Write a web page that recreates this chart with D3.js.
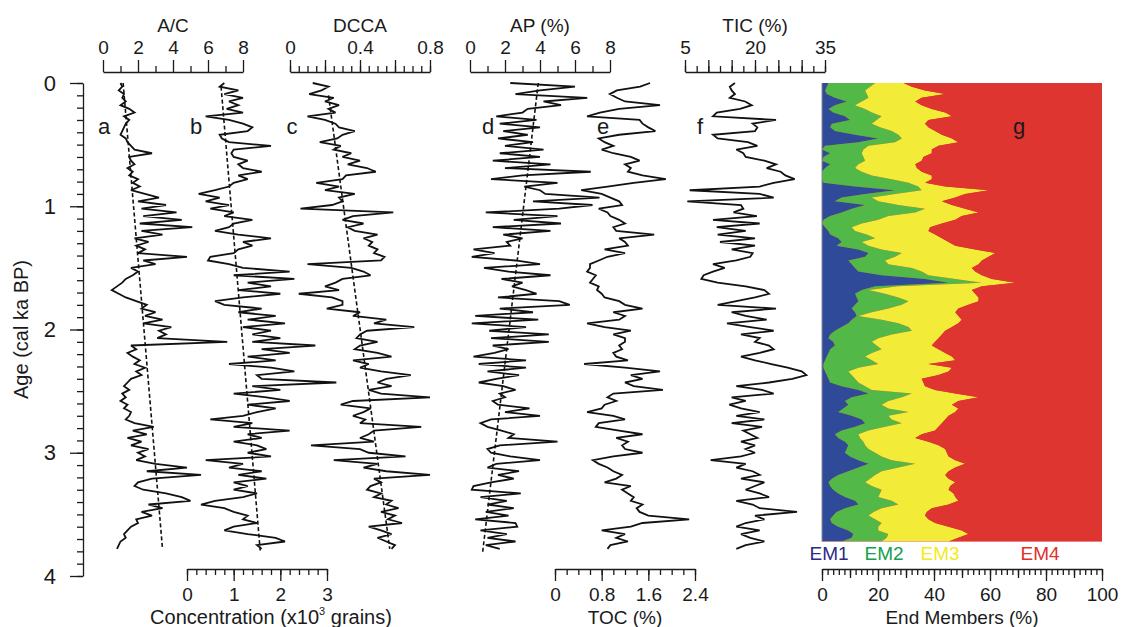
<!DOCTYPE html>
<html>
<head>
<meta charset="utf-8">
<script src="https://cdn.jsdelivr.net/npm/d3@7"></script>
<style>
  body { margin: 0; background: #fff; }
  svg { display: block; }
</style>
</head>
<body>
<svg id="chart" width="1126" height="627"></svg>
<script>
// ---- sample ages (cal ka BP), one sample every 0.03 ka ----
const ages = d3.range(127).map(i => +(i * 0.03).toFixed(2));

// a: A/C ratio
const acRatio = [1.0,1.1,0.9,1.2,1.1,1.3,1.0,1.5,1.8,1.2,
 1.5,1.3,1.2,1.1,1.0,1.3,1.4,1.6,1.8,2.8,
 1.5,1.6,1.8,1.4,1.7,1.5,2.0,1.7,2.1,1.6,
 2.4,3.2,2.0,3.6,2.2,4.2,2.3,4.5,2.1,5.1,
 2.2,3.4,1.8,2.6,1.9,2.4,2.0,4.8,2.3,3.0,
 1.6,2.0,1.7,1.3,1.1,0.8,0.5,0.9,1.3,1.9,
 2.5,2.2,3.0,2.4,3.4,2.3,3.9,3.2,3.6,3.1,
 7.1,1.6,1.9,1.4,1.7,2.1,1.8,2.4,1.9,2.2,
 1.6,1.4,1.2,1.5,1.1,1.3,1.0,1.4,1.2,1.6,
 1.5,1.3,1.8,2.9,1.7,2.5,1.4,2.2,1.6,2.6,
 2.0,2.4,1.9,3.0,4.8,2.5,5.6,2.8,2.0,1.8,
 2.3,3.6,4.5,5.0,2.6,3.4,2.2,2.8,1.9,2.0,
 1.6,1.4,1.2,1.3,1.0,0.9,0.8];

// b: pollen concentration (x10^3 grains)
const concentration = [0.8,0.7,1.1,0.8,1.2,0.9,1.1,0.85,1.2,0.4,
 0.9,1.2,1.4,1.3,0.7,0.75,0.9,1.8,1.0,0.95,
 1.0,1.3,1.1,1.2,1.6,1.1,1.3,1.0,0.9,0.6,
 0.25,0.7,0.4,0.9,0.5,1.0,0.8,1.4,1.0,0.9,
 0.6,1.1,1.8,1.2,1.4,1.1,1.0,0.5,0.45,0.9,
 1.2,2.2,1.0,2.3,1.3,1.8,1.1,2.0,1.2,0.6,
 0.8,1.6,1.1,1.9,1.3,2.1,1.2,1.8,1.4,2.0,
 1.4,2.75,1.6,2.2,1.3,1.9,0.9,1.8,2.3,1.5,
 1.6,3.2,1.4,2.0,1.0,1.7,2.2,1.3,1.9,1.5,
 1.2,0.5,1.4,1.0,2.2,1.3,1.6,1.0,1.5,1.7,
 1.3,1.8,0.4,1.2,0.9,1.6,1.1,1.7,1.0,1.3,
 1.0,1.5,1.2,0.6,0.3,0.8,1.0,1.3,1.2,1.5,
 1.0,0.8,1.3,1.9,2.1,1.5,1.6];

// c: DCCA axis 1 scores
const dcca = [0.13,0.22,0.18,0.11,0.25,0.2,0.28,0.22,0.26,0.1,
 0.2,0.26,0.28,0.37,0.3,0.27,0.17,0.29,0.25,0.35,
 0.3,0.4,0.33,0.44,0.49,0.32,0.3,0.15,0.28,0.2,
 0.37,0.28,0.3,0.24,0.06,0.59,0.36,0.3,0.42,0.33,
 0.37,0.5,0.42,0.47,0.45,0.5,0.48,0.54,0.52,0.1,
 0.35,0.42,0.46,0.3,0.26,0.2,0.28,0.05,0.24,0.3,
 0.3,0.21,0.4,0.36,0.55,0.48,0.71,0.44,0.4,0.38,
 0.5,0.4,0.37,0.5,0.58,0.36,0.45,0.4,0.52,0.69,
 0.55,0.5,0.58,0.45,0.52,0.8,0.36,0.29,0.46,0.42,
 0.36,0.43,0.4,0.75,0.48,0.45,0.4,0.48,0.12,0.4,
 0.45,0.66,0.25,0.5,0.42,0.55,0.8,0.48,0.52,0.46,
 0.44,0.52,0.48,0.58,0.55,0.62,0.52,0.6,0.56,0.64,
 0.45,0.52,0.58,0.5,0.55,0.6,0.58];

// d: arboreal pollen (%)
const apPct = [2.3,6.0,4.0,2.6,6.7,4.2,5.2,3.3,3.0,1.5,
 3.8,1.7,4.0,1.9,3.3,1.6,3.6,2.0,4.2,1.7,
 4.0,1.3,4.6,2.0,6.9,3.0,1.2,5.0,3.1,4.0,
 4.3,7.4,3.6,7.0,5.1,0.9,5.0,2.5,5.2,1.3,
 4.6,1.9,3.0,2.1,2.3,0.2,1.4,0.1,2.6,4.0,
 0.8,2.2,4.6,1.8,3.0,2.4,3.2,3.8,1.6,5.1,
 5.7,1.7,3.6,0.3,3.9,0.1,3.2,1.1,4.5,1.2,
 4.5,1.3,2.2,1.4,0.2,3.2,0.5,3.2,1.0,2.8,
 1.5,0.5,1.9,2.6,1.7,2.0,1.3,1.6,3.4,2.0,
 4.0,1.2,0.6,1.0,1.8,2.5,2.2,5.0,1.7,1.0,
 1.2,2.3,4.0,1.5,1.0,2.8,1.6,2.5,1.2,0.2,
 0.1,2.9,0.6,2.1,1.0,2.5,0.9,2.2,0.3,2.6,
 2.7,0.6,2.1,1.0,2.6,0.9,1.7];

// e: total organic carbon (%)
const tocPct = [1.63,1.46,1.06,0.94,1.06,1.2,1.8,1.1,0.77,0.55,
 1.45,1.5,1.6,1.72,1.1,0.75,0.85,1.0,0.8,1.0,
 1.3,1.45,1.2,1.3,1.25,1.5,1.9,1.35,0.9,0.45,
 0.8,0.95,1.1,1.15,0.75,0.9,0.95,1.1,1.2,1.0,
 1.05,1.7,1.1,1.2,1.25,0.85,1.2,0.9,0.75,0.6,
 0.6,0.55,0.7,0.65,0.6,0.75,0.72,0.8,0.85,1.1,
 1.2,1.5,1.0,1.2,1.1,0.55,0.85,1.3,1.0,1.2,
 1.2,1.1,1.15,1.0,1.05,1.25,0.5,1.2,1.8,1.3,
 1.5,1.2,1.35,1.85,1.0,0.9,1.05,0.85,0.8,0.55,
 1.0,1.2,0.75,0.7,1.1,1.5,1.05,1.25,1.15,1.2,
 1.5,1.0,0.65,0.75,0.9,1.0,1.15,1.05,0.85,1.3,
 1.15,1.25,1.35,1.3,1.5,1.4,1.45,1.6,2.3,1.5,
 1.3,0.8,1.2,1.05,1.25,0.95,0.9];

// f: total inorganic carbon (%)
const ticPct = [15.7,14.6,15,15.7,14.6,17.9,19.3,16.8,11.8,11,
 24.5,19.5,20.5,20,11,12,18.5,20.5,16,17.5,
 18,22,24.5,22.5,25.5,26.5,28.5,24,21,6,
 21,24,5.5,17,17.5,15.4,20.4,11,21,11.8,
 18,12,20,12.5,20,15,19.5,19,16,11,
 13.5,11,9,8.5,12,18,22,23,20,16,
 12,24.5,15,18,22.5,14,19,24,17,21,
 20,23,24,21,17,20,23.5,27,30,31,
 28,23,16,21.5,24,15,18,14.5,17,21,
 16,22,15,21.5,17.5,19,20.5,17,20,18,
 20,17,10.5,18,16,19.5,21,17,22,20,
 18,21,23,16,19.5,21,29,20,22,18,
 16,21,17,19,22,18,16];

// linear trends (dashed), given at their two end ages
const acTrend = [[0, 1.15], [3.78, 3.4]];
const concTrend = [[0.03, 0.73], [3.8, 1.57]];
const dccaTrend = [[0.1, 0.22], [3.78, 0.57]];
const apTrend = [[0, 3.9], [3.81, 0.72]];

// g: grain-size end members (%), samples every 0.03 ka from 0 to 3.72
const emAges = d3.range(125).map(i => +(i * 0.03).toFixed(2));
const em1 = [2.3,1.7,1.1,1.7,4.6,8.8,4.6,2.3,4,8.2,
 10,3.5,2.9,4.6,11.8,20.1,13,1.1,0,2.9,
 0.5,0,2.9,1.1,0,0,0,0.5,11.8,26.1,
 15.4,7,4.6,15.4,10.6,7,2.9,0.5,0,1.1,
 2.3,2.9,5.8,7,5.2,13,16.6,15.4,9.4,10.6,
 11.8,13,21.3,36.8,45.2,19,14.2,11.8,12.4,13,
 11.8,10.6,11.8,12.4,10.6,9.4,7,4.6,2.9,2.3,
 4,4.6,2.9,2.3,1.7,1.1,0.5,0.5,1.1,1.7,
 2.3,2.9,7,13,16.6,10.6,8.2,9.4,7.6,5.8,
 10.6,14.2,15.4,11.8,7,4.6,5.8,8.2,9.4,8.8,
 8.2,10,13,16.6,13,9.4,5.8,3.5,2.3,2.9,
 4,5.8,8.2,11.8,13,8.2,5.2,4,2.9,3.5,
 5.8,9.4,11.2,10.6,7];
const em2 = [16.7,15.5,14.3,14.3,12,5.4,7.2,13.1,13.8,13.1,
 9.5,14.3,17.8,20.3,15.5,8.4,13.1,15.5,14.8,11.3,
 14.3,15.4,10.1,10.7,14.2,17.8,24.9,30.4,22.6,9.5,
 10.7,10.8,15.5,11.9,26.2,26.3,20.8,19.6,14.2,9.5,
 9.5,13.1,13.2,7.2,11.4,8.3,11.9,10.7,13.1,13.1,
 20.3,22.6,16.7,10.8,11.9,8.3,2.4,10.7,14.9,17.9,
 16.7,13.1,6,0.6,10.7,17.9,23.9,27.5,22,17.8,
 13.8,14.9,18.4,15.5,13.7,16.7,19.6,12.5,8.3,8.9,
 9.5,10.1,8.4,4.8,15.5,17.9,15.5,11.9,16.1,25.1,
 13.1,10.7,13.1,10.7,9.6,8.4,7.8,6.6,6,7.8,
 10.8,11.3,11.9,16.7,14.3,11.9,13.2,13.7,13.1,14.9,
 17.3,14.9,11.9,13.1,14.3,13.1,13.2,12.6,16.1,17.8,
 14.3,10.7,12.5,12.5,14.3];
const em3 = [10.1,14.9,21.4,28,19,19.1,23.8,23.8,26.2,25.1,
 18.5,19,17.3,15.5,15.5,17.9,22.6,25,24.4,25,
 21.4,20.2,20.3,22.1,21.4,21.4,14.3,5.9,9.6,23.9,
 25,29.8,22.7,19.1,14.3,22.6,26.2,27.5,28.6,28,
 26.2,24.4,23.8,31,31,33.4,33.4,33.4,34.6,32.2,
 21.4,19.1,19.1,13.1,11.9,29.8,36.9,32.2,28.6,25,
 23.8,25,29.8,35.7,28.6,21.4,15.5,11.9,17.9,21.5,
 22.6,19.7,20.3,26.2,31,29.8,17.9,33.4,35.8,31,
 23.8,23.2,21.4,22.6,15.5,27.4,25,25.1,25,16.7,
 21.5,19.1,14.3,19.1,23.8,22.6,19.7,23.2,26.2,27.4,
 25.6,23.9,22.7,17.8,20.3,23.9,25,28,32.2,28,
 23.9,26.3,27.5,23.8,17.9,17.9,19,20.2,19,19.1,
 25.1,29.8,28.6,25.6,23.9];
const em4 = [70.9,67.9,63.2,56,64.4,66.7,64.4,60.8,56,53.6,
 62,63.2,62,59.6,57.2,53.6,51.3,58.4,60.8,60.8,
 63.8,64.4,66.7,66.1,64.4,60.8,60.8,63.2,56,40.5,
 48.9,52.4,57.2,53.6,48.9,44.1,50.1,52.4,57.2,61.4,
 62,59.6,57.2,54.8,52.4,45.3,38.1,40.5,42.9,44.1,
 46.5,45.3,42.9,39.3,31,42.9,46.5,45.3,44.1,44.1,
 47.7,51.3,52.4,51.3,50.1,51.3,53.6,56,57.2,58.4,
 59.6,60.8,58.4,56,53.6,52.4,62,53.6,54.8,58.4,
 64.4,63.8,63.2,59.6,52.4,44.1,51.3,53.6,51.3,52.4,
 54.8,56,57.2,58.4,59.6,64.4,66.7,62,58.4,56,
 55.4,54.8,52.4,48.9,52.4,54.8,56,54.8,52.4,54.2,
 54.8,53,52.4,51.3,54.8,60.8,62.6,63.2,62,59.6,
 54.8,50.1,47.7,51.3,54.8];
const emKeys = ["EM1", "EM2", "EM3", "EM4"];
const emColors = ["#2f4a99", "#52b848", "#f2ec38", "#df3530"];
const emLabelColors = ["#2b2b85", "#14a04c", "#f4ea1a", "#e0302a"];

// ---- layout ----
const FONT = "'Liberation Sans', Arial, Helvetica, sans-serif";
const INK = "#1a1a1a";
const svg = d3.select("#chart");

const y = d3.scaleLinear().domain([0, 4]).range([83, 576]);

const xAC = d3.scaleLinear().domain([0, 8]).range([103, 243]);
const xConc = d3.scaleLinear().domain([0, 3]).range([187, 327]);
const xDCCA = d3.scaleLinear().domain([0, 0.8]).range([290, 430]);
const xAP = d3.scaleLinear().domain([0, 8]).range([470, 610]);
const xTOC = d3.scaleLinear().domain([0, 2.4]).range([555, 695]);
const xTIC = d3.scaleLinear().domain([5, 35]).range([685, 825]);
const xEM = d3.scaleLinear().domain([0, 100]).range([822, 1102]);

function styleAxis(g, size) {
  g.attr("font-family", FONT).attr("font-size", size);
  g.selectAll("line, path").attr("stroke", INK).attr("stroke-width", 1.3);
  g.selectAll("text").attr("fill", INK);
}

function range(a, b, s) {
  const out = [];
  for (let v = a; v <= b + s / 1000; v += s) out.push(+v.toFixed(4));
  return out;
}

// horizontal axis with long labelled ticks and short minor ticks
function hAxis(scale, yPos, side, majors, minors, fmt, title, titleY) {
  const make = side === "top" ? d3.axisTop : d3.axisBottom;
  const g = svg.append("g").attr("transform", `translate(0,${yPos})`);
  g.append("g")
    .call(make(scale).tickValues(minors).tickSize(6).tickFormat(""))
    .call(s => s.select(".domain").remove())
    .call(s => styleAxis(s, 19));
  g.append("g")
    .call(make(scale).tickValues(majors).tickSize(12).tickSizeOuter(0)
      .tickPadding(side === "top" ? 6 : 7).tickFormat(fmt))
    .call(s => styleAxis(s, 19));
  svg.append("text")
    .attr("x", d3.mean(scale.range()))
    .attr("y", titleY)
    .attr("text-anchor", "middle")
    .attr("font-family", FONT).attr("font-size", 19).attr("fill", INK)
    .text(title);
  return g;
}

// top scales
hAxis(xAC, 72, "top", [0, 2, 4, 6, 8], [1, 3, 5, 7], d3.format("d"), "A/C", 32);
hAxis(xDCCA, 72, "top", [0, 0.2, 0.4, 0.6, 0.8], range(0, 0.8, 0.05),
  d => (d === 0 ? "0" : [0.4, 0.8].includes(d) ? d3.format(".1f")(d) : ""), "DCCA", 32);
hAxis(xAP, 72, "top", [0, 2, 4, 6, 8], [1, 3, 5, 7], d3.format("d"), "AP (%)", 32);
hAxis(xTIC, 72, "top", [5, 10, 15, 20, 25, 30, 35], range(5, 35, 2.5),
  d => ([5, 20, 35].includes(d) ? d : ""), "TIC (%)", 32);

// bottom scales
hAxis(xConc, 569, "bottom", [0, 1, 2, 3], range(0, 3, 0.2), d3.format("d"), "", 0);
const concTitle = svg.append("text")
  .attr("x", 271).attr("y", 624).attr("text-anchor", "middle")
  .attr("font-family", FONT).attr("font-size", 20).attr("fill", INK);
concTitle.append("tspan").text("Concentration (x10");
concTitle.append("tspan").attr("font-size", 11).attr("dy", -9).text("3");
concTitle.append("tspan").attr("dy", 9).text(" grains)");

hAxis(xTOC, 569, "bottom", [0, 0.8, 1.6, 2.4], range(0, 2.4, 0.2),
  d => (d === 0 ? "0" : d3.format(".1f")(d)), "TOC (%)", 624);
hAxis(xEM, 569, "bottom", [0, 20, 40, 60, 80, 100], range(0, 100, 2),
  d3.format("d"), "End Members (%)", 624);
// mid ticks at odd tens on the end-member scale
svg.append("g").attr("transform", "translate(0,569)")
  .call(d3.axisBottom(xEM).tickValues([10, 30, 50, 70, 90]).tickSize(9).tickFormat(""))
  .call(s => s.select(".domain").remove())
  .call(s => styleAxis(s, 18));

// age axis
const gy = svg.append("g").attr("transform", "translate(83,0)");
gy.append("g")
  .call(d3.axisLeft(y).tickValues(range(0, 4, 0.1)).tickSize(6).tickFormat(""))
  .call(s => s.select(".domain").remove())
  .call(s => styleAxis(s, 21));
gy.append("g")
  .call(d3.axisLeft(y).tickValues([0, 1, 2, 3, 4]).tickSize(13).tickSizeOuter(0)
    .tickPadding(14).tickFormat(d3.format("d")))
  .call(s => styleAxis(s, 22));
svg.append("text")
  .attr("transform", `translate(28,${y(2)}) rotate(-90)`)
  .attr("text-anchor", "middle")
  .attr("font-family", FONT).attr("font-size", 20).attr("fill", INK)
  .text("Age (cal ka BP)");

// ---- end-member stack ----
const emRows = emAges.map((a, i) => ({ age: a, EM1: em1[i], EM2: em2[i], EM3: em3[i], EM4: em4[i] }));
const stacked = d3.stack().keys(emKeys)(emRows);
const emBottom = y(emAges[emAges.length - 1]);
const emPanel = svg.append("g");
emPanel.append("rect")
  .attr("x", xEM(0)).attr("y", y(0))
  .attr("width", xEM(100) - xEM(0)).attr("height", emBottom - y(0))
  .attr("fill", emColors[3]);
emPanel.append("clipPath").attr("id", "emclip").append("rect")
  .attr("x", xEM(0)).attr("y", y(0))
  .attr("width", xEM(100) - xEM(0)).attr("height", emBottom - y(0));
const emArea = d3.area()
  .y(d => y(d.data.age))
  .x0(d => xEM(d[0]))
  .x1(d => xEM(d[1]));
emPanel.selectAll("path.em").data(stacked).join("path")
  .attr("class", "em")
  .attr("clip-path", "url(#emclip)")
  .attr("fill", (d, i) => emColors[i])
  .attr("d", emArea);
// thin frame line on the zero edge of the panel
emPanel.append("line")
  .attr("x1", xEM(0)).attr("x2", xEM(0)).attr("y1", y(0)).attr("y2", emBottom)
  .attr("stroke", "#8a8a9a").attr("stroke-width", 1);

[[829, "EM1"], [884, "EM2"], [940, "EM3"], [1040, "EM4"]].forEach(([x, t], i) => {
  svg.append("text").attr("x", x).attr("y", 560).attr("text-anchor", "middle")
    .attr("font-family", FONT).attr("font-size", 19).attr("fill", emLabelColors[i]).text(t);
});

// ---- proxy curves ----
function curve(values, xs) {
  const line = d3.line().x(d => xs(d[1])).y(d => y(d[0]));
  svg.append("path")
    .datum(ages.map((a, i) => [a, values[i]]))
    .attr("fill", "none").attr("stroke", "#111").attr("stroke-width", 1.8)
    .attr("stroke-linejoin", "miter").attr("stroke-miterlimit", 3)
    .attr("d", line);
}
function trend(pts, xs) {
  svg.append("path")
    .datum(pts)
    .attr("fill", "none").attr("stroke", "#111").attr("stroke-width", 1.6)
    .attr("stroke-dasharray", "4,2.5")
    .attr("d", d3.line().x(d => xs(d[1])).y(d => y(d[0])));
}
curve(acRatio, xAC); trend(acTrend, xAC);
curve(concentration, xConc); trend(concTrend, xConc);
curve(dcca, xDCCA); trend(dccaTrend, xDCCA);
curve(apPct, xAP); trend(apTrend, xAP);
curve(tocPct, xTOC);
curve(ticPct, xTIC);

// panel letters
[["a", 104], ["b", 196], ["c", 292], ["d", 488], ["e", 603], ["f", 700], ["g", 1019]].forEach(([t, x]) => {
  svg.append("text").attr("x", x).attr("y", 134).attr("text-anchor", "middle")
    .attr("font-family", FONT).attr("font-size", 22).attr("fill", INK).text(t);
});
</script>
</body>
</html>
